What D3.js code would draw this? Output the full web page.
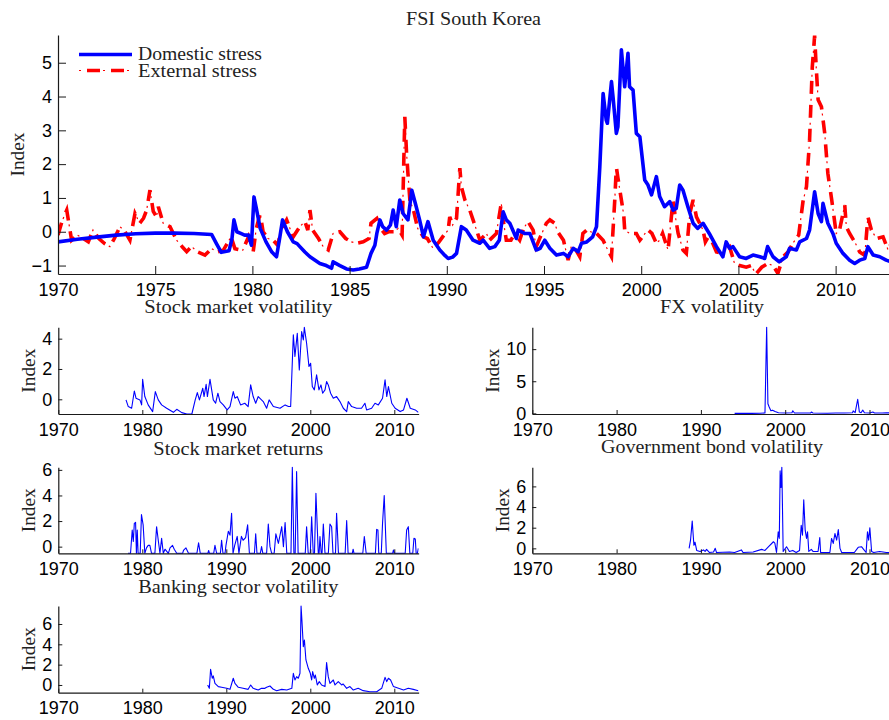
<!DOCTYPE html>
<html><head><meta charset="utf-8">
<script src="https://cdn.jsdelivr.net/npm/d3@7"></script>
<style>
body{margin:0;background:#fff;}
svg{display:block;}
.tick text{font-family:"Liberation Sans",Arial,sans-serif;font-size:18px;fill:#000;}
.ttl{font-family:"Liberation Serif","Times New Roman",serif;fill:#222;}
</style></head><body>
<script>
// ---------- DATA ----------
const mainTitle = "FSI South Korea";
const legendLabels = ["Domestic stress", "External stress"];
const mainXTicks = [1970,1975,1980,1985,1990,1995,2000,2005,2010];
const mainYTicks = [-1,0,1,2,3,4,5];
const subXTicks = [1970,1980,1990,2000,2010];

const domestic = [
[1970.0,-0.30],[1971.0,-0.22],[1972.0,-0.16],[1973.0,-0.10],[1974.0,-0.06],[1975.0,-0.04],[1976.0,-0.04],[1977.0,-0.05],[1977.9,-0.08],
[1978.15,-0.35],[1978.4,-0.61],[1978.8,-0.56],[1978.95,-0.2],[1979.05,0.35],[1979.2,0.0],[1979.4,-0.05],[1979.6,-0.1],[1979.8,-0.1],[1979.95,-0.4],
[1980.08,1.03],[1980.2,0.7],[1980.4,0.1],[1980.7,-0.3],[1981.0,-0.6],[1981.24,-0.74],[1981.4,-0.2],[1981.55,0.35],[1981.8,0.0],[1982.1,-0.3],
[1982.3,-0.35],[1982.44,-0.44],[1982.7,-0.6],[1982.96,-0.74],[1983.47,-0.94],[1983.8,-1.0],[1984.07,-1.08],[1984.15,-0.89],[1984.5,-1.0],
[1984.84,-1.1],[1985.18,-1.13],[1985.5,-1.1],[1985.87,-1.05],[1986.1,-0.64],[1986.3,-0.4],[1986.4,-0.05],[1986.56,0.35],[1986.7,0.15],
[1986.9,0.05],[1987.1,0.2],[1987.24,0.64],[1987.4,0.15],[1987.58,0.94],[1987.75,0.54],[1988.0,0.35],[1988.2,1.23],[1988.4,0.8],[1988.6,0.35],
[1988.8,-0.15],[1989.03,0.3],[1989.3,-0.25],[1989.64,-0.54],[1989.9,-0.7],[1990.07,-0.79],[1990.3,-0.75],[1990.5,-0.64],[1990.75,0.15],
[1991.0,0.05],[1991.35,-0.25],[1991.7,-0.34],[1991.87,-0.25],[1992.2,-0.49],[1992.47,-0.44],[1992.7,-0.25],[1992.9,0.59],[1993.06,0.35],
[1993.24,0.25],[1993.58,-0.2],[1993.67,0.05],[1994.0,-0.05],[1994.27,-0.05],[1994.6,-0.54],[1994.8,-0.49],[1995.04,-0.25],[1995.3,-0.49],
[1995.64,-0.69],[1996.0,-0.64],[1996.24,-0.74],[1996.5,-0.49],[1996.76,-0.59],[1996.93,-0.34],[1997.2,-0.3],[1997.5,-0.15],[1997.7,0.15],
[1997.87,1.92],[1998.04,4.09],[1998.2,3.3],[1998.26,3.21],[1998.47,4.44],[1998.55,3.99],[1998.72,2.91],[1998.8,3.1],[1998.98,5.38],
[1999.15,4.29],[1999.32,5.28],[1999.4,4.29],[1999.58,4.19],[1999.75,2.91],[1999.93,2.81],[2000.18,1.53],[2000.35,1.38],[2000.53,1.09],
[2000.78,1.63],[2000.95,1.04],[2001.2,0.74],[2001.47,0.89],[2001.64,0.64],[2001.8,0.69],[2001.98,1.38],[2002.15,1.23],[2002.4,0.74],
[2002.67,0.25],[2002.9,0.1],[2003.18,0.25],[2003.5,-0.05],[2003.87,-0.44],[2004.2,-0.74],[2004.37,-0.3],[2004.55,-0.49],[2004.72,-0.44],
[2005.06,-0.74],[2005.4,-0.79],[2005.75,-0.69],[2006.1,-0.74],[2006.35,-0.79],[2006.5,-0.44],[2006.78,-0.74],[2007.1,-0.89],[2007.46,-0.74],
[2007.63,-0.49],[2007.98,-0.54],[2008.15,-0.3],[2008.5,-0.2],[2008.66,0.05],[2008.75,0.44],[2008.92,1.18],[2009.1,0.54],[2009.27,0.3],
[2009.35,0.84],[2009.6,0.25],[2009.86,-0.05],[2010.03,-0.34],[2010.38,-0.64],[2010.72,-0.84],[2010.98,-0.94],[2011.24,-0.84],[2011.5,-0.79],
[2011.66,-0.44],[2011.93,-0.69],[2012.27,-0.74],[2012.6,-0.84],[2012.9,-0.9]
];

const external = [
[1970.0,-0.1],[1970.2,0.3],[1970.45,0.64],[1970.7,-0.25],[1971.0,-0.1],[1971.3,-0.2],[1971.56,-0.3],[1971.8,0.05],[1972.1,-0.2],[1972.4,-0.35],
[1972.67,-0.44],[1972.9,-0.2],[1973.19,0.15],[1973.45,0.0],[1973.7,-0.25],[1973.96,0.54],[1974.2,0.25],[1974.4,0.4],[1974.56,0.64],[1974.73,1.23],
[1974.9,0.6],[1975.07,0.44],[1975.16,0.74],[1975.41,0.25],[1975.76,0.15],[1976.1,-0.25],[1976.4,-0.45],[1976.62,-0.59],[1976.87,-0.44],
[1977.2,-0.6],[1977.56,-0.69],[1977.9,-0.5],[1978.2,-0.6],[1978.5,-0.55],[1978.9,-0.15],[1979.1,-0.5],[1979.5,-0.55],[1979.8,-0.15],
[1980.04,-0.59],[1980.2,0.1],[1980.4,0.54],[1980.55,0.0],[1980.8,-0.2],[1981.07,-0.25],[1981.3,-0.4],[1981.5,0.1],[1981.76,0.35],[1982.1,-0.15],
[1982.44,0.15],[1982.7,0.3],[1982.85,0.05],[1982.96,0.64],[1983.1,0.05],[1983.4,-0.2],[1983.64,-0.44],[1983.9,-0.54],[1984.15,-0.05],
[1984.5,0.0],[1984.8,-0.2],[1985.1,-0.3],[1985.36,-0.34],[1985.7,-0.3],[1986.0,-0.2],[1986.1,0.25],[1986.4,0.39],[1986.6,0.1],[1986.8,-0.05],
[1987.0,0.0],[1987.3,0.0],[1987.5,0.1],[1987.7,-0.1],[1987.84,3.4],[1987.93,2.32],[1988.0,1.73],[1988.1,0.94],[1988.3,0.6],[1988.5,0.1],
[1988.8,-0.15],[1989.0,-0.2],[1989.3,-0.5],[1989.6,-0.3],[1989.85,-0.1],[1990.07,0.05],[1990.15,0.44],[1990.3,0.2],[1990.5,0.4],[1990.67,1.88],
[1990.75,1.33],[1990.93,0.94],[1991.18,0.64],[1991.35,0.35],[1991.5,0.1],[1991.7,-0.25],[1992.04,-0.05],[1992.2,-0.25],[1992.55,-0.05],
[1992.8,0.84],[1992.9,0.35],[1993.06,-0.25],[1993.3,-0.25],[1993.5,-0.05],[1993.75,-0.25],[1993.95,0.1],[1994.18,0.3],[1994.44,0.05],
[1994.6,-0.44],[1994.85,-0.1],[1995.12,0.25],[1995.3,0.35],[1995.55,0.25],[1995.7,0.0],[1996.0,-0.25],[1996.24,-0.84],[1996.4,-0.44],
[1996.6,-0.5],[1996.84,-0.74],[1997.0,-0.05],[1997.2,0.05],[1997.4,0.0],[1997.7,-0.05],[1998.04,-0.25],[1998.2,-0.45],[1998.47,-0.74],
[1998.64,0.94],[1998.72,1.92],[1998.8,1.6],[1998.98,0.94],[1999.1,0.5],[1999.15,0.05],[1999.4,-0.05],[1999.75,-0.05],[1999.93,-0.25],
[2000.2,-0.05],[2000.35,0.05],[2000.55,-0.05],[2000.78,-0.34],[2000.95,-0.25],[2001.1,-0.05],[2001.38,-0.54],[2001.64,0.94],[2001.73,0.54],
[2001.9,-0.05],[2002.15,-0.54],[2002.32,-0.64],[2002.5,0.54],[2002.67,0.94],[2002.84,0.44],[2003.18,0.05],[2003.3,-0.3],[2003.5,-0.1],
[2003.87,-0.6],[2004.2,-0.64],[2004.55,-0.45],[2004.8,-0.94],[2005.06,-1.0],[2005.4,-1.05],[2005.65,-1.0],[2005.9,-1.25],[2006.2,-1.05],
[2006.5,-0.94],[2006.78,-1.0],[2007.03,-1.23],[2007.3,-0.74],[2007.55,-0.6],[2007.8,-0.34],[2008.1,-0.1],[2008.32,0.89],[2008.5,1.33],
[2008.66,2.71],[2008.8,4.88],[2008.92,5.8],[2009.0,4.88],[2009.1,3.9],[2009.27,3.7],[2009.44,2.91],[2009.6,1.73],[2009.8,0.94],[2010.03,-0.05],
[2010.2,0.05],[2010.47,0.79],[2010.55,0.15],[2010.72,-0.05],[2010.98,-0.3],[2011.24,-0.6],[2011.5,-0.7],[2011.66,0.44],[2011.84,0.05],
[2012.1,-0.2],[2012.44,-0.15],[2012.7,-0.54],[2012.9,-0.3]
];

const stockVol = [
[1978.06,-0.04],[1978.33,-0.48],[1978.73,-0.59],[1979.05,0.55],[1979.25,0.07],[1979.72,-0.04],[1979.92,-0.37],[1980.04,1.32],[1980.3,0.18],
[1980.7,-0.37],[1981.23,-0.81],[1981.55,0.51],[1981.9,-0.04],[1982.3,-0.37],[1982.9,-0.59],[1983.7,-0.86],[1984.1,-0.66],[1984.7,-0.88],
[1985.3,-0.97],[1985.9,-0.97],[1986.3,-0.04],[1986.55,0.44],[1986.8,-0.04],[1987.2,0.73],[1987.35,0.18],[1987.6,0.99],[1987.75,0.18],
[1988.06,1.32],[1988.45,-0.04],[1988.73,-0.26],[1989.0,0.4],[1989.25,-0.15],[1989.64,-0.37],[1990.1,-0.7],[1990.44,-0.48],[1990.83,0.51],
[1991.03,0.07],[1991.3,0.18],[1991.7,-0.37],[1992.2,-0.26],[1992.6,-0.48],[1992.9,0.95],[1993.2,0.18],[1993.5,-0.26],[1993.8,0.18],
[1994.4,-0.15],[1994.8,-0.59],[1995.1,-0.04],[1995.6,-0.48],[1996.4,-0.59],[1997.0,-0.37],[1997.4,-0.48],[1997.66,-0.48],[1997.98,4.25],
[1998.17,2.82],[1998.45,4.36],[1998.69,1.94],[1998.97,4.47],[1999.17,3.92],[1999.29,4.75],[1999.56,3.7],[1999.84,2.16],[2000.04,2.38],
[2000.24,0.84],[2000.48,0.62],[2000.75,1.61],[2001.03,0.62],[2001.27,0.95],[2001.47,0.4],[2001.75,0.62],[2001.94,1.17],[2002.14,0.95],
[2002.42,0.4],[2002.74,0.07],[2003.13,0.18],[2003.53,-0.15],[2003.93,-0.59],[2004.33,-0.81],[2004.52,-0.15],[2004.92,-0.48],[2005.52,-0.59],
[2006.1,-0.59],[2006.5,-0.26],[2006.7,-0.7],[2007.3,-0.59],[2007.7,-0.26],[2008.1,-0.37],[2008.6,0.07],[2008.9,1.28],[2009.1,0.18],
[2009.3,0.84],[2009.7,-0.26],[2010.1,-0.59],[2010.7,-0.81],[2011.1,-0.7],[2011.5,0.07],[2011.9,-0.59],[2012.5,-0.7],[2012.86,-0.86]
];

const fxVol = [
[1994.0,0.0],[1995.0,0.02],[1996.0,0.0],[1997.0,0.02],[1997.6,0.05],[1997.8,13.4],[1997.95,1.5],[1998.1,1.0],[1998.3,0.4],[1998.5,0.5],
[1998.8,0.3],[1999.2,0.1],[2000.0,0.05],[2000.8,0.1],[2000.9,0.4],[2001.1,0.05],[2002.0,0.05],[2003.0,0.05],[2003.1,0.2],[2003.3,0.05],
[2005.0,0.02],[2006.0,0.05],[2007.0,0.05],[2008.0,0.1],[2008.06,0.4],[2008.3,0.1],[2008.6,2.2],[2008.8,0.2],[2009.0,0.1],[2009.2,0.5],
[2009.4,0.1],[2010.0,0.05],[2010.4,0.2],[2010.6,0.05],[2011.5,0.05],[2012.0,0.1],[2012.86,0.05]
];

const stockRet = [
[1978.3,-0.52],[1978.6,-0.52],[1978.8,1.3],[1978.93,0.4],[1979.05,1.82],[1979.2,1.9],[1979.3,-0.52],[1979.4,1.3],[1979.5,-0.52],
[1979.75,-0.52],[1979.9,2.5],[1980.1,1.7],[1980.3,-0.52],[1980.5,-0.1],[1980.7,0.1],[1980.9,0.1],[1981.1,-0.52],[1981.5,-0.52],[1981.7,1.56],
[1981.9,0.5],[1982.1,-0.52],[1982.3,0.65],[1982.5,-0.52],[1982.7,-0.2],[1983.1,-0.52],[1983.3,-0.1],[1983.6,0.1],[1983.8,-0.2],[1984.1,-0.52],
[1984.8,-0.52],[1984.9,-0.3],[1985.2,-0.1],[1985.5,-0.52],[1986.5,-0.52],[1986.7,0.3],[1986.9,-0.52],[1987.8,-0.52],[1987.9,-0.3],[1988.0,-0.52],
[1988.5,-0.52],[1988.65,0.1],[1988.85,-0.52],[1989.3,-0.52],[1989.44,0.5],[1989.6,-0.52],[1989.85,-0.52],[1989.96,0.1],[1990.24,1.2],
[1990.44,0.9],[1990.63,2.6],[1990.8,-0.52],[1991.0,0.1],[1991.3,0.8],[1991.5,-0.52],[1991.8,0.8],[1992.0,0.5],[1992.3,0.7],[1992.54,1.7],
[1992.75,-0.52],[1993.35,-0.52],[1993.5,1.0],[1993.65,-0.52],[1994.05,-0.52],[1994.2,0.0],[1994.35,-0.52],[1994.8,-0.52],[1995.0,1.77],
[1995.2,0.0],[1995.4,-0.52],[1995.7,-0.52],[1995.9,1.0],[1996.2,0.26],[1996.6,1.56],[1996.8,0.0],[1997.0,1.88],[1997.2,-0.52],[1997.7,-0.52],
[1997.86,6.2],[1998.05,-0.52],[1998.2,-0.52],[1998.37,5.86],[1998.55,-0.52],[1999.4,-0.52],[1999.56,1.56],[1999.75,-0.52],[2000.0,-0.52],
[2000.16,2.34],[2000.35,-0.52],[2000.5,-0.52],[2000.67,4.17],[2000.95,-0.52],[2001.05,-0.52],[2001.15,0.78],[2001.3,-0.52],[2001.4,-0.52],
[2001.55,1.77],[2001.75,-0.52],[2002.15,-0.52],[2002.34,1.77],[2002.54,1.56],[2002.7,-0.52],[2003.0,-0.52],[2003.13,2.6],[2003.35,-0.52],
[2004.15,-0.52],[2004.33,2.03],[2004.5,-0.52],[2005.0,-0.52],[2005.1,-0.2],[2005.2,-0.52],[2006.25,-0.52],[2006.43,0.78],[2006.65,-0.52],
[2007.75,-0.52],[2007.9,1.35],[2008.05,1.3],[2008.15,-0.52],[2008.45,-0.52],[2008.6,1.82],[2008.8,4.0],[2009.05,-0.52],[2009.8,-0.52],
[2009.9,-0.26],[2010.0,-0.52],[2011.3,-0.52],[2011.47,1.3],[2011.67,1.56],[2011.85,-0.52],[2012.2,-0.52],[2012.34,0.65],[2012.5,0.6],
[2012.6,-0.52],[2012.75,-0.52],[2012.86,-0.13]
];

const govBond = [
[1988.6,0.0],[1988.77,0.8],[1988.97,2.65],[1989.17,0.3],[1989.3,0.6],[1989.5,-0.2],[1989.9,-0.3],[1990.3,-0.15],[1990.5,-0.3],[1990.67,-0.1],
[1991.0,-0.4],[1991.5,-0.35],[1991.7,0.0],[1991.85,-0.4],[1992.6,-0.38],[1993.4,-0.35],[1994.0,-0.4],[1994.8,-0.15],[1995.0,-0.4],
[1996.2,-0.36],[1997.2,-0.1],[1997.6,-0.2],[1998.0,0.15],[1998.6,0.64],[1998.77,0.5],[1998.97,-0.4],[1999.17,1.6],[1999.3,0.96],
[1999.4,7.5],[1999.5,5.9],[1999.6,7.85],[1999.76,-0.3],[2000.16,0.15],[2000.5,-0.3],[2000.9,-0.2],[2001.3,-0.4],[2001.7,-0.2],[2001.9,2.24],
[2002.05,1.28],[2002.2,4.7],[2002.37,1.76],[2002.53,0.96],[2002.65,1.6],[2002.8,-0.3],[2003.1,-0.1],[2003.3,-0.3],[2003.9,-0.3],
[2004.1,1.05],[2004.2,-0.4],[2005.3,-0.4],[2005.5,0.96],[2005.7,0.48],[2005.9,1.44],[2006.1,0.8],[2006.3,1.82],[2006.5,0.0],[2006.7,-0.4],
[2008.2,-0.4],[2008.66,0.1],[2009.05,0.16],[2009.3,-0.1],[2009.6,-0.4],[2009.76,1.6],[2009.9,0.8],[2010.04,2.0],[2010.25,-0.3],
[2010.5,-0.4],[2011.2,-0.3],[2012.0,-0.4],[2012.86,-0.4]
];

const bankVol = [
[1987.78,0.0],[1987.98,-0.33],[1988.13,1.54],[1988.33,0.66],[1988.45,0.89],[1988.65,0.16],[1989.05,-0.16],[1989.44,-0.23],[1990.04,-0.33],
[1990.44,-0.43],[1990.83,0.66],[1991.03,0.16],[1991.43,-0.23],[1992.0,-0.33],[1992.6,-0.43],[1992.9,0.0],[1993.2,-0.33],[1993.8,-0.5],
[1994.2,-0.33],[1994.6,-0.33],[1994.8,-0.23],[1995.2,-0.1],[1995.6,-0.43],[1996.0,-0.56],[1996.6,-0.43],[1997.2,-0.5],[1997.8,-0.33],
[1997.98,1.15],[1998.17,0.49],[1998.37,0.82],[1998.57,0.66],[1998.77,1.15],[1998.9,7.77],[1999.0,6.4],[1999.17,3.77],[1999.3,4.43],
[1999.48,2.46],[1999.76,1.64],[2000.0,1.15],[2000.16,0.49],[2000.28,1.31],[2000.48,0.66],[2000.6,0.98],[2000.83,0.0],[2001.07,0.33],
[2001.35,0.0],[2001.75,-0.16],[2001.94,2.2],[2002.14,0.82],[2002.34,0.16],[2002.74,0.49],[2002.94,0.0],[2003.33,0.33],[2003.73,0.0],
[2003.9,0.1],[2004.33,-0.33],[2004.72,-0.16],[2005.12,-0.5],[2005.7,-0.33],[2006.3,-0.56],[2007.1,-0.66],[2007.9,-0.66],[2008.5,-0.33],
[2008.9,0.75],[2009.1,0.33],[2009.3,0.66],[2009.56,0.49],[2009.9,-0.16],[2010.5,-0.33],[2011.1,-0.5],[2011.67,-0.33],[2012.26,-0.43],
[2012.86,-0.56]
];

const subplots = [
  {title:"Stock market volatility", data:stockVol, yDomain:[-0.97,4.75], yTicks:[0,2,4], col:0, row:0},
  {title:"FX volatility", data:fxVol, yDomain:[-0.1,13.4], yTicks:[0,5,10], col:1, row:0},
  {title:"Stock market returns", data:stockRet, yDomain:[-0.52,6.2], yTicks:[0,2,4,6], col:0, row:1},
  {title:"Government bond volatility", data:govBond, yDomain:[-0.48,7.85], yTicks:[0,2,4,6], col:1, row:1},
  {title:"Banking sector volatility", data:bankVol, yDomain:[-0.76,7.77], yTicks:[0,2,4,6], col:0, row:2}
];

// ---------- LAYOUT ----------
const W = 889, H = 720;
const svg = d3.select("body").append("svg").attr("width", W).attr("height", H);
const xDomain = [1970, 2012.9];
const axisColor = "#1a1a1a";
// widths of the serif labels as they appear in the reference
const textWidths = {"FSI South Korea":135, "Stock market volatility":188, "FX volatility":104,
  "Stock market returns":170, "Government bond volatility":222, "Banking sector volatility":200,
  "Domestic stress":124, "External stress":119, "Index":44};

function styleAxis(g){
  g.selectAll(".domain").attr("stroke", axisColor).attr("stroke-width", 1.2);
  g.selectAll(".tick line").attr("stroke", axisColor).attr("stroke-width", 1);
}
function serif(sel, t){
  sel.attr("class","ttl").attr("font-size",18).text(t);
  if (textWidths[t]) sel.attr("textLength", textWidths[t]).attr("lengthAdjust","spacingAndGlyphs");
  return sel;
}

// Main panel
const M = {l:58, r:892, t:35, b:274};
const mx = d3.scaleLinear().domain(xDomain).range([M.l, M.r]);
const my = d3.scaleLinear().domain([-1.25, 5.82]).range([M.b, M.t]);

svg.append("defs").append("clipPath").attr("id","clipMain")
  .append("rect").attr("x",M.l).attr("y",M.t-2).attr("width",M.r-M.l).attr("height",M.b-M.t+2);

const lineMain = d3.line().x(d=>mx(d[0])).y(d=>my(d[1]));
const gm = svg.append("g").attr("clip-path","url(#clipMain)");
gm.append("path").datum(external).attr("d", lineMain).attr("fill","none")
  .attr("stroke","#ff0000").attr("stroke-width",3.6).attr("stroke-dasharray","13,11");
gm.append("path").datum(external).attr("d", lineMain).attr("fill","none")
  .attr("stroke","#ff0000").attr("stroke-width",1.2).attr("stroke-dasharray","0,17,2,5");
gm.append("path").datum(domestic).attr("d", lineMain).attr("fill","none")
  .attr("stroke","#0000ff").attr("stroke-width",3.6).attr("stroke-linejoin","round");

const gxm = svg.append("g").attr("transform",`translate(0,${M.b})`)
  .call(d3.axisBottom(mx).tickValues(mainXTicks).tickFormat(d3.format("d")).tickSizeInner(-8).tickSizeOuter(0).tickPadding(9));
styleAxis(gxm);
const gym = svg.append("g").attr("transform",`translate(${M.l},0)`)
  .call(d3.axisLeft(my).tickValues(mainYTicks).tickFormat(d3.format("d")).tickSizeInner(-8).tickSizeOuter(0).tickPadding(6));
styleAxis(gym);

serif(svg.append("text").attr("x",473.5).attr("y",25).attr("text-anchor","middle"), mainTitle);
serif(svg.append("text").attr("transform",`translate(24,${(M.t+M.b)/2}) rotate(-90)`).attr("text-anchor","middle"), "Index");

// Legend
const lg = svg.append("g");
lg.append("line").attr("x1",79).attr("x2",132).attr("y1",54.5).attr("y2",54.5)
  .attr("stroke","#0000ff").attr("stroke-width",3.6);
lg.append("line").attr("x1",79).attr("x2",132).attr("y1",70.5).attr("y2",70.5)
  .attr("stroke","#ff0000").attr("stroke-width",3.6).attr("stroke-dasharray","0,8,13,11,13,20");
lg.append("line").attr("x1",79).attr("x2",132).attr("y1",70.5).attr("y2",70.5)
  .attr("stroke","#ff0000").attr("stroke-width",1.2).attr("stroke-dasharray","2,22");
legendLabels.forEach((t,i)=>{
  serif(lg.append("text").attr("x",138).attr("y",60+i*16.5), t);
});

// Sub panels
const colX = [[58.3, 58.3 + 42.9*8.4],[532.3, 532.3 + 42.9*8.43]];
const rowY = [[327.3,414],[467.3,553.3],[606,692.7]];
const titleY = [[312.7,312.7],[455,452.7],[592.7,592.7]];

subplots.forEach((s,i)=>{
  const [x0,x1] = colX[s.col], [y0,y1] = rowY[s.row];
  const sx = d3.scaleLinear().domain(xDomain).range([x0,x1]);
  const sy = d3.scaleLinear().domain(s.yDomain).range([y1,y0]);
  svg.select("defs").append("clipPath").attr("id","clip"+i)
    .append("rect").attr("x",x0).attr("y",y0-1).attr("width",x1-x0).attr("height",y1-y0+2);
  svg.append("g").attr("clip-path",`url(#clip${i})`).append("path").datum(s.data)
    .attr("d", d3.line().x(d=>sx(d[0])).y(d=>sy(d[1])))
    .attr("fill","none").attr("stroke","#0000ff").attr("stroke-width",1.1).attr("stroke-linejoin","round");
  const gx = svg.append("g").attr("transform",`translate(0,${y1})`)
    .call(d3.axisBottom(sx).tickValues(subXTicks).tickFormat(d3.format("d")).tickSizeInner(-4).tickSizeOuter(0).tickPadding(9));
  styleAxis(gx);
  const gy = svg.append("g").attr("transform",`translate(${x0},0)`)
    .call(d3.axisLeft(sy).tickValues(s.yTicks).tickFormat(d3.format("d")).tickSizeInner(-4).tickSizeOuter(0).tickPadding(6));
  styleAxis(gy);
  const cx = s.col===0 ? 238.3 : 712;
  serif(svg.append("text").attr("x",cx).attr("y",titleY[s.row][s.col]).attr("text-anchor","middle"), s.title);
  const lx = s.col===0 ? 35 : (s.row===0 ? 499 : 509);
  serif(svg.append("text").attr("transform",`translate(${lx},${(y0+y1)/2}) rotate(-90)`).attr("text-anchor","middle"), "Index");
});
</script>
</body></html>
